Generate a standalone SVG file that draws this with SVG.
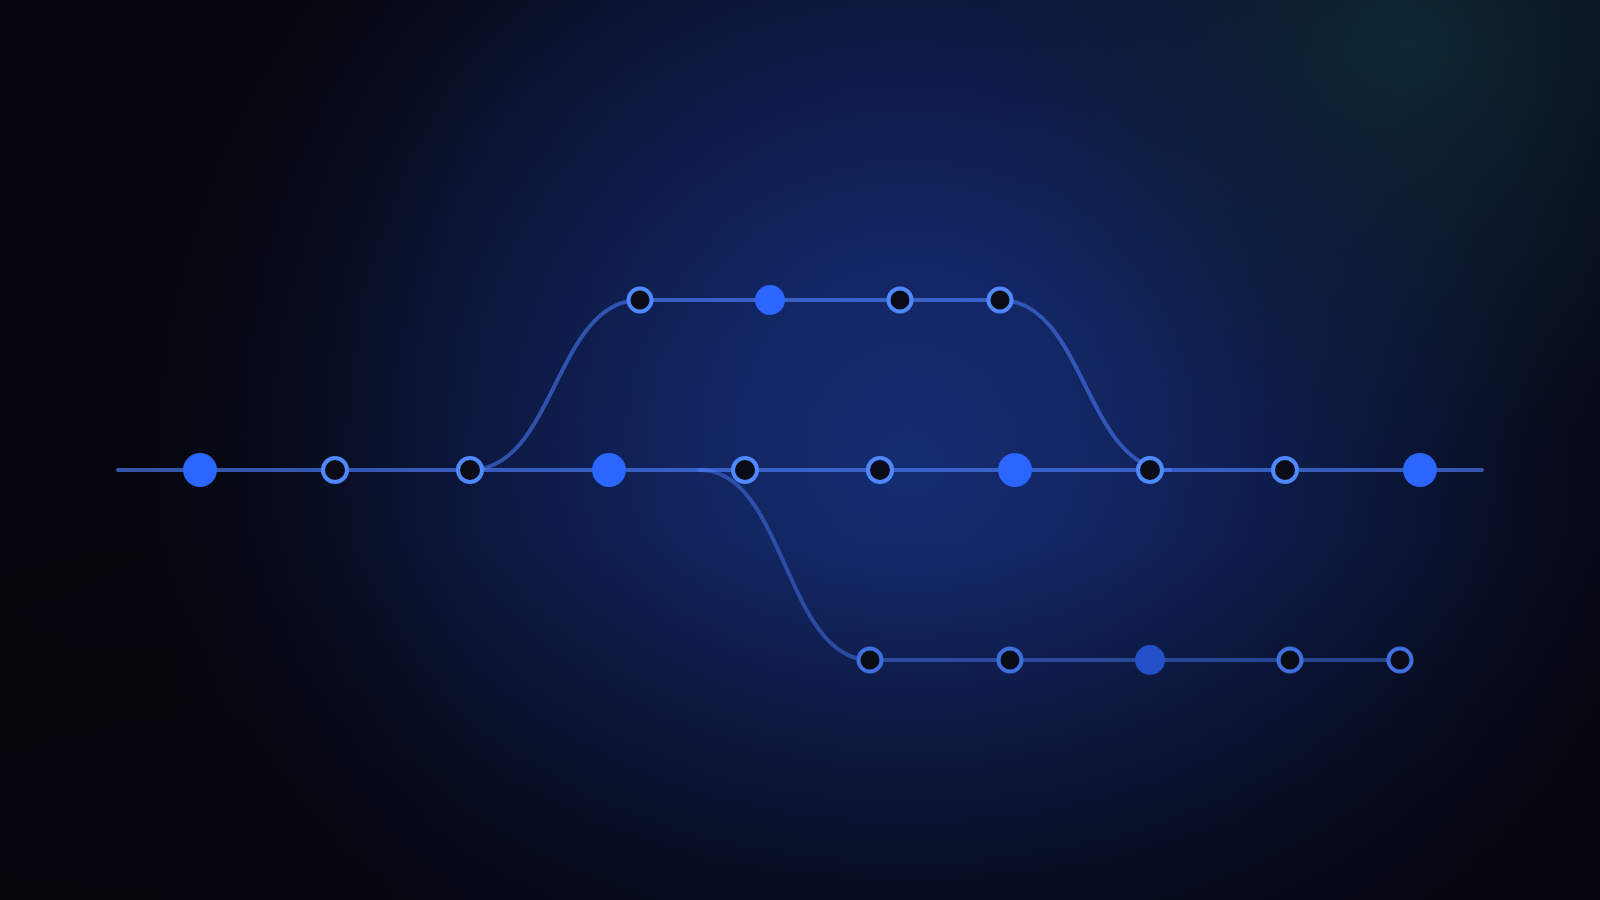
<svg xmlns="http://www.w3.org/2000/svg" width="1600" height="900" viewBox="0 0 1600 900">
  <defs>
    <radialGradient id="bgGlow" gradientUnits="userSpaceOnUse" cx="910" cy="470" r="760">
      <stop offset="0" stop-color="#17317d"/>
      <stop offset="0.3" stop-color="#132766"/>
      <stop offset="0.6" stop-color="#0c1840"/>
      <stop offset="0.85" stop-color="#080c1e"/>
      <stop offset="1" stop-color="#06070f"/>
    </radialGradient>
    <radialGradient id="tealGlow" gradientUnits="userSpaceOnUse" cx="1410" cy="40" r="420">
      <stop offset="0" stop-color="#10303a" stop-opacity="0.8"/>
      <stop offset="0.5" stop-color="#0f2a3a" stop-opacity="0.4"/>
      <stop offset="1" stop-color="#0f2a3a" stop-opacity="0"/>
    </radialGradient>
    <linearGradient id="shade" x1="0" y1="0" x2="0" y2="1">
      <stop offset="0" stop-color="#03040a" stop-opacity="0"/>
      <stop offset="0.6" stop-color="#03040a" stop-opacity="0.1"/>
      <stop offset="1" stop-color="#03040a" stop-opacity="0.6"/>
    </linearGradient>
    <linearGradient id="shadeL" x1="0" y1="0" x2="1" y2="0">
      <stop offset="0" stop-color="#05060c" stop-opacity="0.45"/>
      <stop offset="0.3" stop-color="#05060c" stop-opacity="0"/>
      <stop offset="1" stop-color="#05060c" stop-opacity="0"/>
    </linearGradient>
  </defs>
  <style>
    .line { fill: none; stroke: rgb(77,128,255); stroke-opacity: 0.65; stroke-width: 4; stroke-linecap: round; }
    .curve { fill: none; stroke: rgb(77,128,255); stroke-opacity: 0.55; stroke-width: 4; stroke-linecap: round; }
    .dim { stroke-opacity: 0.45; }
    .hollow { fill: #0a0c18; stroke: #4f88ff; stroke-width: 4; }
    .hollow-dim { fill: #0a0c18; stroke: #3f6fdc; stroke-width: 4; }
    .filled { fill: #2a66ff; }
    .filled-dim { fill: #2450c8; }
  </style>
  <rect width="1600" height="900" fill="url(#bgGlow)"/>
  <rect width="1600" height="900" fill="url(#tealGlow)"/>
  <rect width="1600" height="900" fill="url(#shade)"/>
  <rect width="1600" height="900" fill="url(#shadeL)"/>

  <g id="connectors">
    <line class="line" x1="118" y1="470" x2="1482" y2="470"/>
    <line class="line" x1="640" y1="300" x2="1000" y2="300"/>
    <line class="line dim" x1="870" y1="660" x2="1400" y2="660"/>
    <path class="curve" d="M470,470 C555,470 555,300 640,300"/>
    <path class="curve" d="M1000,300 C1085,300 1085,470 1170,470"/>
    <path class="curve dim" d="M700,470 C785,470 785,660 870,660"/>
  </g>

  <g id="main-1"><circle class="filled" cx="200" cy="470" r="17"/></g>
  <g id="main-2"><circle class="hollow" cx="335" cy="470" r="12"/></g>
  <g id="main-3"><circle class="hollow" cx="470" cy="470" r="12"/></g>
  <g id="main-4"><circle class="filled" cx="609" cy="470" r="17"/></g>
  <g id="main-5"><circle class="hollow" cx="745" cy="470" r="12"/></g>
  <g id="main-6"><circle class="hollow" cx="880" cy="470" r="12"/></g>
  <g id="main-7"><circle class="filled" cx="1015" cy="470" r="17"/></g>
  <g id="main-8"><circle class="hollow" cx="1150" cy="470" r="12"/></g>
  <g id="main-9"><circle class="hollow" cx="1285" cy="470" r="12"/></g>
  <g id="main-10"><circle class="filled" cx="1420" cy="470" r="17"/></g>

  <g id="top-1"><circle class="hollow" cx="640" cy="300" r="11.5"/></g>
  <g id="top-2"><circle class="filled" cx="770" cy="300" r="15"/></g>
  <g id="top-3"><circle class="hollow" cx="900" cy="300" r="11.5"/></g>
  <g id="top-4"><circle class="hollow" cx="1000" cy="300" r="11.5"/></g>

  <g id="bottom-1"><circle class="hollow-dim" cx="870" cy="660" r="11.5"/></g>
  <g id="bottom-2"><circle class="hollow-dim" cx="1010" cy="660" r="11.5"/></g>
  <g id="bottom-3"><circle class="filled-dim" cx="1150" cy="660" r="15"/></g>
  <g id="bottom-4"><circle class="hollow-dim" cx="1290" cy="660" r="11.5"/></g>
  <g id="bottom-5"><circle class="hollow-dim" cx="1400" cy="660" r="11.5"/></g>
</svg>
